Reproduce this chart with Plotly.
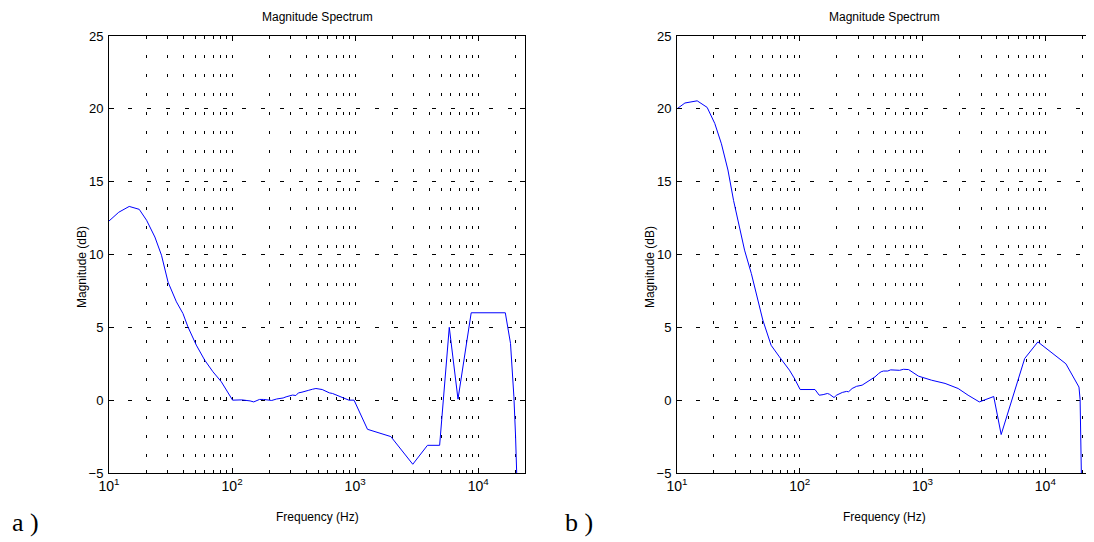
import plotly.graph_objects as go
import numpy as np

# ---- data ----
freq_a = [10, 12, 14.6, 17.6, 20.2, 23.6, 26.7, 30.2, 35.3, 39.9, 43.8, 51.2, 59.9, 69.9, 81.8, 89.8,
          101, 120, 130, 140, 150, 160, 167, 180, 200, 210, 230, 242, 260, 275, 293, 310, 330, 346, 370,
          400, 420, 450, 480, 540, 618, 655, 841, 890, 980, 1260, 1950, 2940, 3870, 4860, 5820, 6850,
          8770, 16600, 18300, 19500, 20100, 20700, 20900]
mag_a = [12.3, 12.9, 13.3, 13.1, 12.35, 11.2, 9.95, 8.1, 6.75, 5.95, 5.03, 3.78, 2.75, 1.95, 1.26, 0.69,
         0.0, 0.02, 0.0, -0.05, -0.12, 0.0, 0.05, 0.05, 0.0, -0.02, 0.08, 0.1, 0.15, 0.23, 0.27, 0.35, 0.32, 0.5, 0.55,
         0.6, 0.68, 0.75, 0.8, 0.73, 0.5, 0.46, 0.1, 0.0, 0.0, -2.0, -2.5, -4.4, -3.1, -3.1, 5.0, 0.07,
         6.0, 6.0, 3.9, 0.23, -2.4, -5.0, -7.0]

freq_b = [10, 11.6, 14.6, 17.6, 20.3, 23.0, 26.0, 28.9, 35.5, 40.3, 50, 58.4, 68.3, 82.4, 90.5, 100.7,
          133, 144, 155, 168, 175, 190, 200, 210, 222, 240, 250, 267, 290, 322, 340, 360, 388, 410, 439,
          460, 481, 520, 550, 600, 650, 700, 770, 926, 1185, 1525, 1950, 2350, 2900, 3800, 4370, 6790,
          8700, 14700, 18800, 19200, 19600, 19700]
mag_b = [20.0, 20.4, 20.55, 20.1, 19.0, 17.6, 15.8, 13.7, 10.3, 8.7, 5.5, 3.77, 2.97, 2.06, 1.49, 0.73,
         0.73, 0.34, 0.38, 0.46, 0.4, 0.18, 0.35, 0.45, 0.53, 0.6, 0.58, 0.8, 0.95, 1.03, 1.15, 1.3, 1.49, 1.6, 1.83,
         1.95, 2.0, 2.0, 2.08, 2.06, 2.05, 2.12, 2.1, 1.65, 1.37, 1.15, 0.8, 0.34, -0.12, 0.25, -2.36, 2.86,
         4.0, 2.5, 0.9, 0.05, -3.9, -5.5]

major_ticks = [10, 100, 1000, 10000]
major_text = ["10<sup>1</sup>", "10<sup>2</sup>", "10<sup>3</sup>", "10<sup>4</sup>"]
minor_ticks = [m * d for d in (10, 100, 1000) for m in range(2, 10)] + [20000]
y_ticks = [-5, 0, 5, 10, 15, 20, 25]

OFF = 8  # page body margin
W, H = 1094 - OFF, 542 - OFF
FONT = "Liberation Sans, Arial, sans-serif"

fig = go.Figure()
fig.add_trace(go.Scatter(x=freq_a, y=mag_a, mode="lines", line=dict(color="#0000FF", width=1),
                         xaxis="x", yaxis="y", showlegend=False))
fig.add_trace(go.Scatter(x=freq_b, y=mag_b, mode="lines", line=dict(color="#0000FF", width=1),
                         xaxis="x2", yaxis="y2", showlegend=False))

def px(x):
    return (x - OFF) / W

def py(y):
    return 1 - (y - OFF) / H

dom_y = [py(473), py(36)]
dom_a = [px(109), px(525)]
dom_b = [px(677), px(1092)]

def xax(dom, anchor):
    return dict(type="log", domain=dom, anchor=anchor, range=[1, np.log10(24000)],
                automargin=False,
                tickmode="array", tickvals=major_ticks, ticktext=major_text,
                ticks="inside", ticklen=5, tickcolor="black", tickwidth=1,
                showline=True, linecolor="black", linewidth=1, mirror="ticks",
                showgrid=True, gridcolor="black", gridwidth=1, griddash="3px,16px",
                zeroline=False,
                tickfont=dict(family=FONT, size=14, color="black"),
                minor=dict(tickmode="array", tickvals=minor_ticks, ticks="inside", ticklen=3,
                           tickcolor="black", showgrid=True, gridcolor="black", gridwidth=1,
                           griddash="3px,16px"))

def yax(dom, anchor):
    return dict(domain=dom, anchor=anchor, range=[-5, 25], tickmode="array", tickvals=y_ticks,
                automargin=False,
                ticks="inside", ticklen=5, tickcolor="black", tickwidth=1,
                showline=True, linecolor="black", linewidth=1, mirror="ticks",
                showgrid=True, gridcolor="black", gridwidth=1, griddash="4px,15px",
                zeroline=False, ticklabelstandoff=2,
                tickfont=dict(family=FONT, size=13, color="black"))

fig.update_layout(
    width=W, height=H,
    margin=dict(l=0, r=0, t=0, b=0, autoexpand=False),
    paper_bgcolor="white", plot_bgcolor="white",
    xaxis=xax(dom_a, "y"), yaxis=yax(dom_y, "x"),
    xaxis2=xax(dom_b, "y2"), yaxis2=yax(dom_y, "x2"),
)

ann = []
for (l, r, lab, labx) in [(109, 525, "a )", 10), (677, 1092, "b )", 563)]:
    cx = (l + r) / 2
    ann.append(dict(x=px(cx), y=1.0, xref="paper", yref="paper", text="Magnitude Spectrum",
                    showarrow=False, font=dict(family=FONT, size=12, color="black"),
                    xanchor="center", yanchor="top"))
    ann.append(dict(x=px(cx), y=py(517), xref="paper", yref="paper", text="Frequency (Hz)",
                    showarrow=False, font=dict(family=FONT, size=12, color="black"),
                    xanchor="center", yanchor="middle"))
    ann.append(dict(x=px(l - 27), y=py(267), xref="paper", yref="paper", text="Magnitude (dB)",
                    showarrow=False, textangle=-90, font=dict(family=FONT, size=12, color="black"),
                    xanchor="center", yanchor="middle"))
    ann.append(dict(x=px(labx), y=py(522), xref="paper", yref="paper", text=lab,
                    showarrow=False, font=dict(family="Liberation Serif, serif", size=26, color="black"),
                    xanchor="left", yanchor="middle"))
fig.update_layout(annotations=ann)

fig.write_html("out.html")
